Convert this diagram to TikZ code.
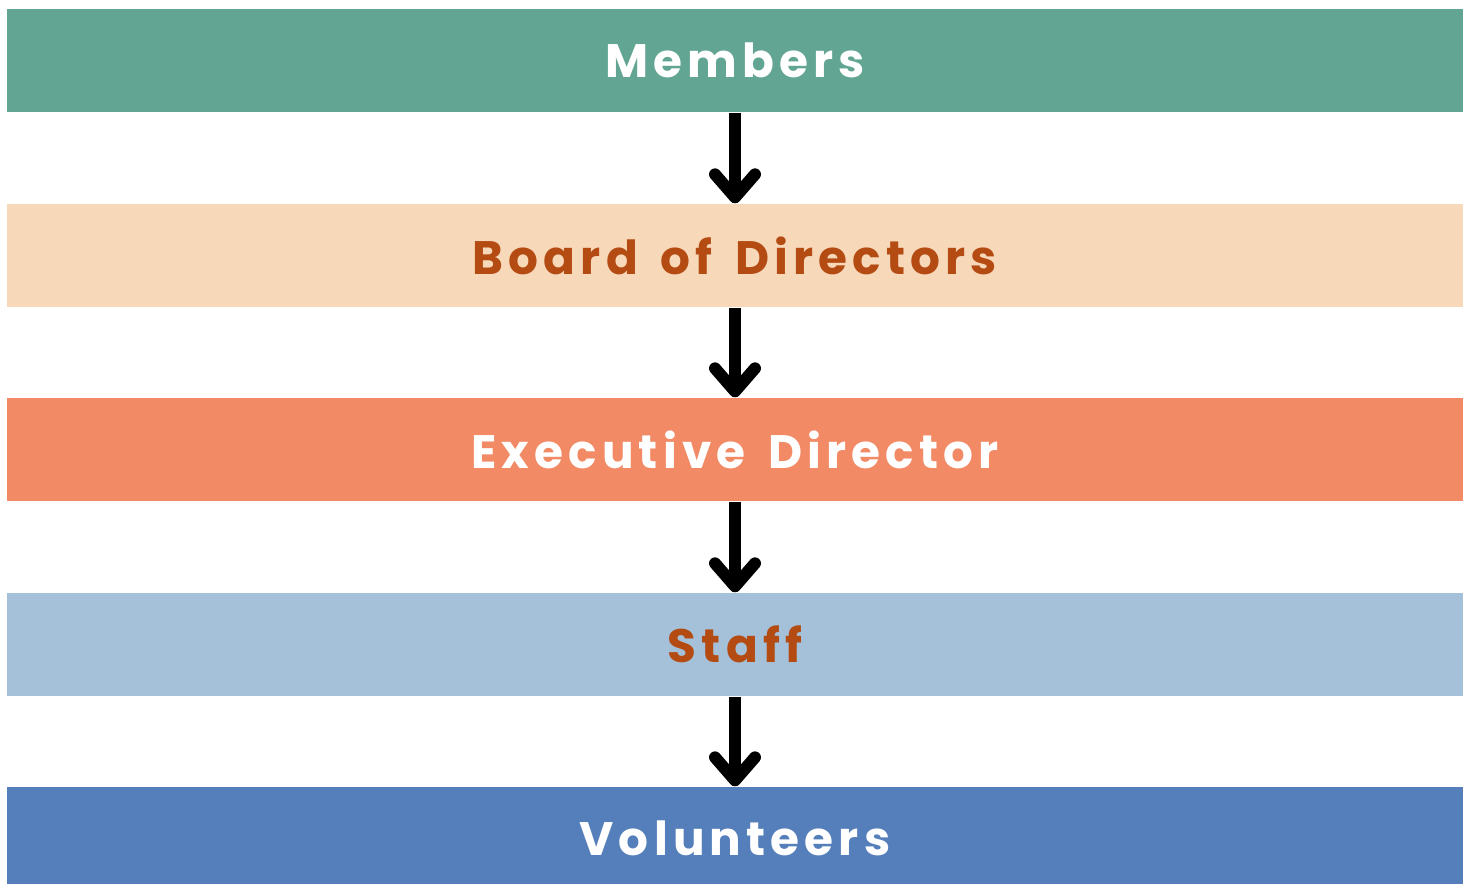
\documentclass[tikz,border=0pt]{standalone}
\usepackage{fontspec}
\setmainfont{Poppins}[LetterSpace=11, WordSpace=1.5]
\usetikzlibrary{arrows.meta}

\definecolor{memgreen}{HTML}{63A593}
\definecolor{boardpeach}{HTML}{F7D8B9}
\definecolor{execorange}{HTML}{F18A65}
\definecolor{staffblue}{HTML}{A5C1D9}
\definecolor{volblue}{HTML}{557FBA}
\definecolor{rust}{HTML}{B34B12}

\tikzset{
    band/.style={minimum width=14.56cm, minimum height=1.03cm, inner sep=0pt,
        font=\bfseries\fontsize{13.35}{16}\selectfont},
    down/.style={line width=3.4pt, -{Straight Barb[round, length=2.3mm, width=4.0mm]}}
}

\begin{document}
\begin{tikzpicture}
        \useasboundingbox (0, 0) rectangle (14.69, -8.84);

        \node[band, fill=memgreen, text=white] (members) at (7.35, -0.605) {Members};
        \node[band, fill=boardpeach, text=rust] (board) at (7.35, -2.555) {Board of Directors};
        \node[band, fill=execorange, text=white] (exec) at (7.35, -4.495) {Executive Director};
        \node[band, fill=staffblue, text=rust] (staff) at (7.35, -6.445) {Staff};
        \node[band, fill=volblue, text=white] (vol) at (7.35, -8.385) {Volunteers};

        \draw[down] (members.south) -- (board.north);
        \draw[down] (board.south) -- (exec.north);
        \draw[down] (exec.south) -- (staff.north);
        \draw[down] (staff.south) -- (vol.north);
    \end{tikzpicture}
\end{document}
